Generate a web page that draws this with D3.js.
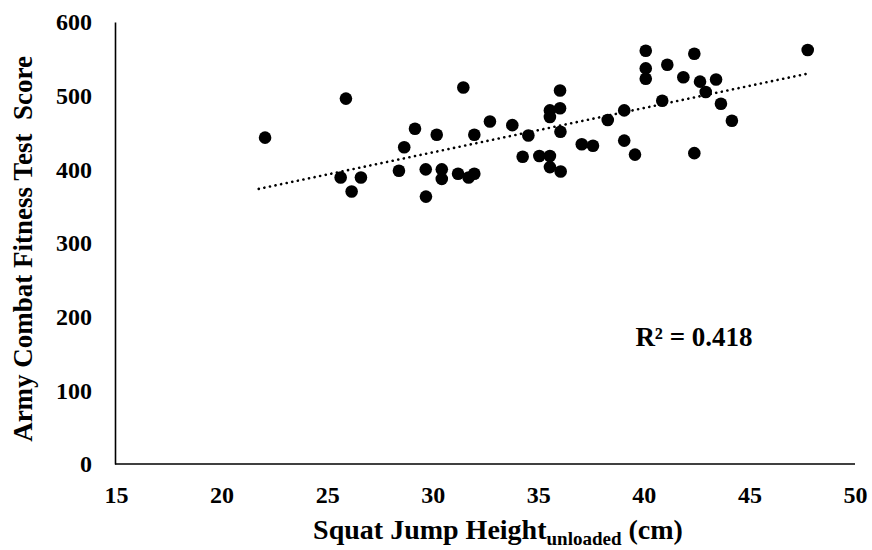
<!DOCTYPE html>
<html lang="en">
<head>
<meta charset="UTF-8">
<title>Squat Jump vs ACFT</title>
<script src="https://cdn.jsdelivr.net/npm/d3@7"></script>
<style>
body{margin:0;background:#fff;}
svg text{font-family:"Liberation Serif","Times New Roman",serif;font-weight:bold;fill:#000;}
.dot{fill:#000;}
.trend{fill:none;stroke:#000;stroke-width:2.6;stroke-linecap:round;stroke-dasharray:0.1,5.6;}
</style>
</head>
<body>
<script>
// squat jump height (cm)
var jumpHeight=[22.06,25.89,25.64,26.16,26.60,28.40,28.65,29.16,29.67,29.68,
  30.19,30.43,30.43,31.20,31.45,31.70,31.97,31.97,32.71,33.77,
  34.26,34.53,35.05,35.55,35.55,36.06,36.03,35.55,36.03,35.55,
  36.05,37.06,37.59,38.29,39.07,39.07,39.58,40.09,40.09,40.09,
  40.87,41.11,41.87,42.39,42.66,43.42,42.93,43.65,44.17,42.39,47.76];
// ACFT score
var acftScore=[443,496,389,370,389,398,430,455,400,363,
  447,400,387,394,511,389,394,447,465,460,
  417,446,418,418,403,397,507,480,483,471,
  451,434,432,467,480,439,420,561,537,523,
  493,542,525,557,519,522,505,489,466,422,562];
var xTicks=[15,20,25,30,35,40,45,50];
var yTicks=[0,100,200,300,400,500,600];
var rSquared="R\u00b2 = 0.418";

var W=872,H=550;
var svg=d3.select("body").append("svg").attr("width",W).attr("height",H);

var x=d3.scaleLinear().domain([15,50]).range([116,855]);
var y=d3.scaleLinear().domain([0,600]).range([464,22]);

var xAxis=svg.append("g").attr("transform","translate(0,464)")
  .call(d3.axisBottom(x).tickValues(xTicks).tickSize(0).tickSizeOuter(0).tickPadding(22));
var yAxis=svg.append("g").attr("transform","translate(115,0)")
  .call(d3.axisLeft(y).tickValues(yTicks).tickSize(0).tickSizeOuter(0).tickPadding(23));
[xAxis,yAxis].forEach(function(g){
  g.attr("font-family",null).attr("font-size",null);
  g.select(".domain").attr("stroke","#000").attr("stroke-width",1.6);
  g.selectAll("text").style("font-size","24px");
});
xAxis.select(".domain").attr("d","M115,0H855");

// linear trend (least squares)
var n=jumpHeight.length;
var mx=d3.mean(jumpHeight),my=d3.mean(acftScore);
var sxy=0,sxx=0;
for(var i=0;i<n;i++){sxy+=(jumpHeight[i]-mx)*(acftScore[i]-my);sxx+=(jumpHeight[i]-mx)*(jumpHeight[i]-mx);}
var slope=sxy/sxx,icpt=my-slope*mx;
var x0=d3.min(jumpHeight)-0.3,x1=d3.max(jumpHeight);
svg.append("path").attr("class","trend")
  .attr("d",d3.line()([[x(x0),y(icpt+slope*x0)],[x(x1),y(icpt+slope*x1)]]));

svg.selectAll("circle.dot").data(jumpHeight).enter().append("circle")
  .attr("class","dot")
  .attr("cx",function(d){return x(d);})
  .attr("cy",function(d,i){return y(acftScore[i]);})
  .attr("r",6.3);

svg.append("text").attr("x",694).attr("y",346).attr("text-anchor","middle")
  .style("font-size","27px").text(rSquared);

svg.append("text").attr("transform","translate(32,249) rotate(-90)")
  .attr("text-anchor","middle").style("font-size","27px")
  .text("Army Combat Fitness Test\u00a0\u00a0Score");

var xt=svg.append("text").attr("x",498).attr("y",539).attr("text-anchor","middle").style("font-size","28px");
xt.append("tspan").text("Squat Jump Height");
xt.append("tspan").attr("dy",6).style("font-size","19px").text("unloaded");
xt.append("tspan").attr("dy",-6).text(" (cm)");
</script>
</body>
</html>
